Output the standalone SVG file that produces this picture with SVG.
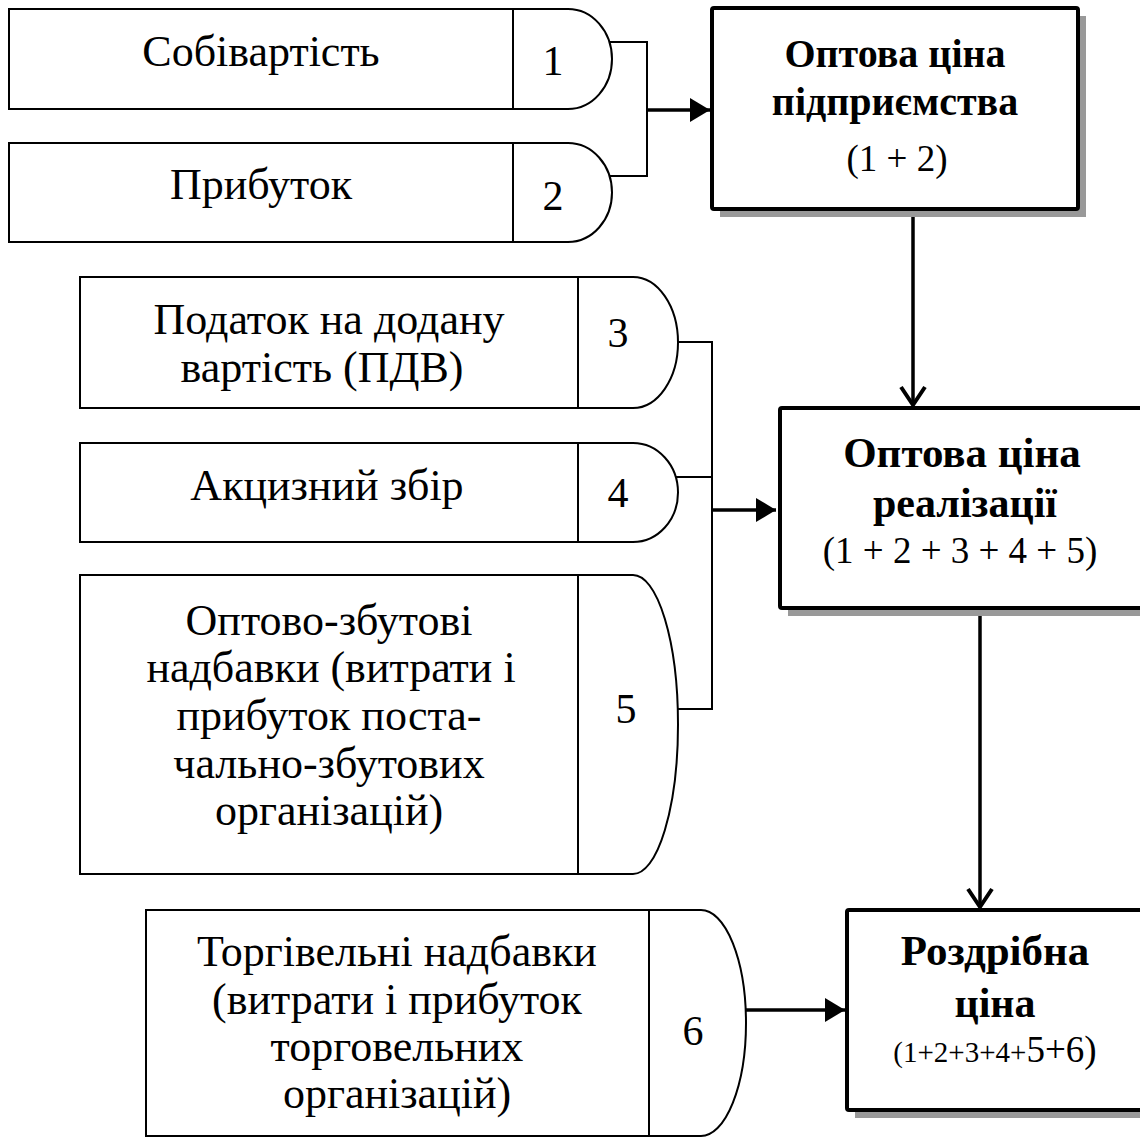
<svg xmlns="http://www.w3.org/2000/svg" width="1140" height="1142" viewBox="0 0 1140 1142">
<defs>
<style>
.shape{fill:#fff;stroke:#000;stroke-width:2}
.div{stroke:#000;stroke-width:2}
.big{fill:#fff;stroke:#000;stroke-width:4}
.shadow{fill:#999;stroke:none}
.t{font-family:"Liberation Serif","Times New Roman",serif;font-size:44px;fill:#000;text-anchor:middle}
.n{font-family:"Liberation Serif","Times New Roman",serif;font-size:42px;fill:#000;text-anchor:middle}
.b{font-family:"Liberation Serif","Times New Roman",serif;font-weight:bold;font-size:42px;fill:#000;text-anchor:middle}
.f{font-family:"Liberation Serif","Times New Roman",serif;font-size:37px;fill:#000;text-anchor:middle}
.thin{fill:none;stroke:#000;stroke-width:2}
.thick{fill:none;stroke:#000;stroke-width:3.5}
.chev{fill:none;stroke:#000;stroke-width:4;stroke-linejoin:miter}
</style>
<marker id="tri" markerUnits="userSpaceOnUse" markerWidth="22" markerHeight="24" refX="20" refY="12" orient="auto">
<path d="M0,0 L20,12 L0,24 Z" fill="#000"/>
</marker>
</defs>

<g id="connectors">
<path class="thin" d="M609,42 H647 V176 H609"/>
<path class="thick" d="M647,110 H710" marker-end="url(#tri)"/>
<path class="thin" d="M678,342 H712 V709 H678"/>
<path class="thin" d="M676,477 H712"/>
<path class="thick" d="M712,510 H776" marker-end="url(#tri)"/>
<path class="thick" d="M746,1010 H845" marker-end="url(#tri)"/>
<path class="thick" d="M913,211 V405"/>
<path class="chev" d="M901,387 L913,405 L925,387"/>
<path class="thick" d="M980,610 V907"/>
<path class="chev" d="M968,889 L980,907 L992,889"/>
</g>

<g id="node-1">
<path class="shape" d="M9,9 H568 A44,50 0 0 1 568,109 H9 Z"/>
<line class="div" x1="513" y1="9" x2="513" y2="109"/>
<text class="t" x="261" y="66">Собівартість</text>
<text class="n" x="553" y="75">1</text>
</g>

<g id="node-2">
<path class="shape" d="M9,143 H568 A44,49.5 0 0 1 568,242 H9 Z"/>
<line class="div" x1="513" y1="143" x2="513" y2="242"/>
<text class="t" x="261" y="199">Прибуток</text>
<text class="n" x="553" y="210">2</text>
</g>

<g id="node-3">
<path class="shape" d="M80,277 H633 A45,65.5 0 0 1 633,408 H80 Z"/>
<line class="div" x1="578" y1="277" x2="578" y2="408"/>
<text class="t" x="329" y="334">Податок на додану</text>
<text class="t" x="322" y="382">вартість (ПДВ)</text>
<text class="n" x="618" y="347">3</text>
</g>

<g id="node-4">
<path class="shape" d="M80,443 H633 A45,49.5 0 0 1 633,542 H80 Z"/>
<line class="div" x1="578" y1="443" x2="578" y2="542"/>
<text class="t" x="327" y="500">Акцизний збір</text>
<text class="n" x="618" y="507">4</text>
</g>

<g id="node-5">
<path class="shape" d="M80,575 H633 A45,149.5 0 0 1 633,874 H80 Z"/>
<line class="div" x1="578" y1="575" x2="578" y2="874"/>
<text class="t" x="329" y="635">Оптово-збутові</text>
<text class="t" x="331" y="682">надбавки (витрати і</text>
<text class="t" x="329" y="730">прибуток поста-</text>
<text class="t" x="329" y="778">чально-збутових</text>
<text class="t" x="329" y="825">організацій)</text>
<text class="n" x="626" y="723">5</text>
</g>

<g id="node-6">
<path class="shape" d="M146,910 H701 A45,113 0 0 1 701,1136 H146 Z"/>
<line class="div" x1="649" y1="910" x2="649" y2="1136"/>
<text class="t" x="397" y="966">Торгівельні надбавки</text>
<text class="t" x="397" y="1014">(витрати і прибуток</text>
<text class="t" x="397" y="1061">торговельних</text>
<text class="t" x="397" y="1108">організацій)</text>
<text class="n" x="693" y="1045">6</text>
</g>

<g id="node-wholesale-enterprise">
<rect class="shadow" x="720" y="16" width="366" height="201"/>
<rect class="big" x="712" y="8" width="366" height="201" rx="2"/>
<text class="b" x="895" y="67" style="font-size:40px">Оптова ціна</text>
<text class="b" x="895" y="115" style="font-size:40px">підприємства</text>
<text class="f" x="897" y="171">(1 + 2)</text>
</g>

<g id="node-wholesale-sale">
<rect class="shadow" x="788" y="416" width="370" height="200"/>
<rect class="big" x="780" y="408" width="370" height="200" rx="2"/>
<text class="b" x="962" y="467" style="font-size:43px">Оптова ціна</text>
<text class="b" x="965" y="517">реалізації</text>
<text class="f" x="960" y="563">(1 + 2 + 3 + 4 + 5)</text>
</g>

<g id="node-retail">
<rect class="shadow" x="855" y="918" width="300" height="200"/>
<rect class="big" x="847" y="910" width="300" height="200" rx="2"/>
<text class="b" x="995" y="965" style="font-size:43px">Роздрібна</text>
<text class="b" x="995" y="1017">ціна</text>
<text class="f" x="995" y="1062"><tspan style="font-size:29px">(1+2+3+4+</tspan><tspan>5+6)</tspan></text>
</g>
</svg>
